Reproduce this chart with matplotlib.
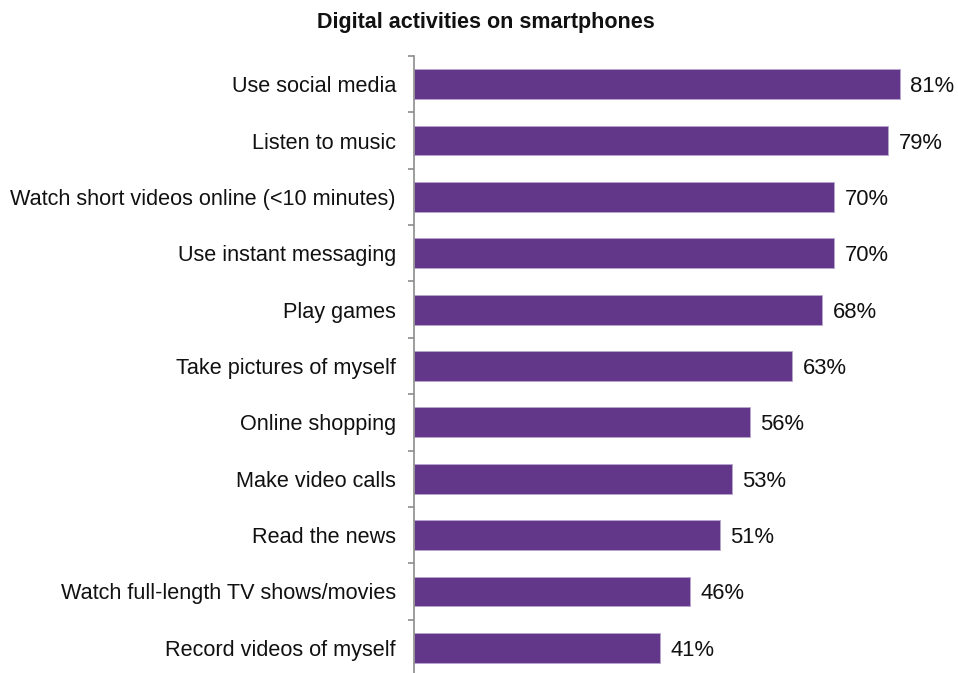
import matplotlib
matplotlib.use("Agg")
import matplotlib.pyplot as plt
import numpy as np

plt.rcParams['font.family'] = ['Liberation Sans', 'DejaVu Sans']

activities = [
    "Use social media",
    "Listen to music",
    "Watch short videos online (<10 minutes)",
    "Use instant messaging",
    "Play games",
    "Take pictures of myself",
    "Online shopping",
    "Make video calls",
    "Read the news",
    "Watch full-length TV shows/movies",
    "Record videos of myself",
]
shares = [81, 79, 70, 70, 68, 63, 56, 53, 51, 46, 41]

bar_color = "#623688"
text_color = "#111111"

fig = plt.figure(figsize=(9.58, 6.73), dpi=100)
ax = fig.add_axes([0.4322, -0.0045, 0.5637, 0.9213])

y = np.arange(len(activities))
ax.barh(y, shares, height=0.53, color=bar_color, edgecolor="#b9a6cf", linewidth=0.6)

for yi, v in zip(y, shares):
    ax.annotate(f"{v}%", xy=(v, yi), xytext=(7.5, 0), textcoords="offset points",
                va="center_baseline", ha="left", fontsize=15.8, color=text_color)

ax.set_xlim(0, 90)
ax.set_ylim(len(activities) - 0.5, -0.5)

ax.set_yticks(y)
ax.set_yticklabels(activities, fontsize=15.6, color=text_color)
ax.tick_params(axis="y", which="major", length=0, pad=13)
ax.set_yticks(np.arange(len(activities) + 1) - 0.5, minor=True)
ax.tick_params(axis="y", which="minor", length=4.5, width=1.2, color="#8c8c8c", direction="out")
ax.set_xticks([])

for side in ("top", "right", "bottom"):
    ax.spines[side].set_visible(False)
ax.spines["left"].set_color("#8c8c8c")
ax.spines["left"].set_linewidth(1.2)

fig.text(0.507, 0.966, "Digital activities on smartphones", ha="center", va="center",
         fontsize=15.5, fontweight="bold", color=text_color)

fig.savefig("out.png", dpi=100)
